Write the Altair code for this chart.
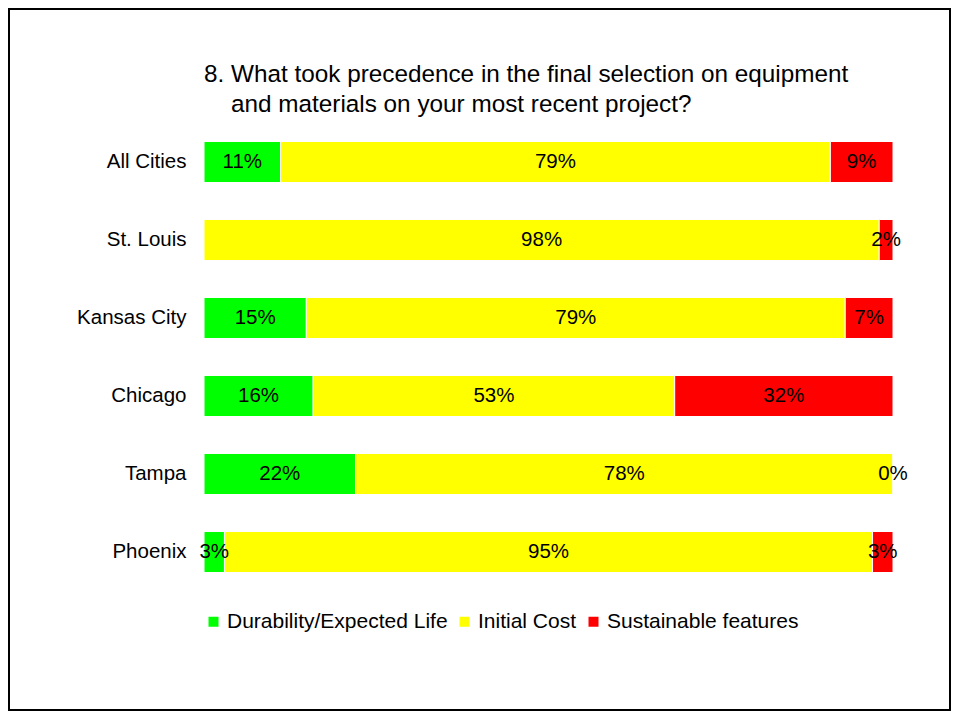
import altair as alt
import pandas as pd

cities = ["All Cities", "St. Louis", "Kansas City", "Chicago", "Tampa", "Phoenix"]
categories = ["Durability/Expected Life", "Initial Cost", "Sustainable features"]
colors = ["#00FF00", "#FFFF00", "#FF0000"]
durability = [11, None, 15, 16, 22, 3]
initial_cost = [79, 98, 79, 53, 78, 95]
sustainable = [9, 2, 7, 32, 0, 3]

rows = []
for i, c in enumerate(cities):
    for k, (cat, vals) in enumerate(zip(categories, [durability, initial_cost, sustainable])):
        v = vals[i]
        if v is None:
            continue
        rows.append({"city": c, "category": cat, "order": k, "value": v})
df = pd.DataFrame(rows)

FONT = "Liberation Sans"

base = alt.Chart(df).transform_stack(
    stack="value", groupby=["city"], as_=["v0", "v1"],
    sort=[alt.SortField("order", order="ascending")], offset="normalize"
).transform_calculate(
    mid="(datum.v0 + datum.v1) / 2", label="datum.value + '%'"
)

xs = alt.Scale(domain=[0, 1], nice=False, zero=True)
y = alt.Y("city:N", sort=cities,
          scale=alt.Scale(paddingInner=0.474, paddingOuter=0.237),
          axis=alt.Axis(title=None, ticks=False, domain=False, labelFontSize=20.5,
                        labelColor="black", labelFont=FONT, labelPadding=18))

bars = base.mark_bar(stroke="white", strokeWidth=1).encode(
    x=alt.X("v0:Q", scale=xs, axis=None),
    x2="v1:Q",
    y=y,
    color=alt.Color("category:N",
                    scale=alt.Scale(domain=categories, range=colors),
                    legend=alt.Legend(title=None, orient="none", legendX=-1, legendY=488,
                                      direction="horizontal", symbolType="square",
                                      symbolSize=100, symbolStrokeWidth=0, symbolOpacity=1,
                                      labelFontSize=21, labelFont=FONT, labelColor="black",
                                      labelLimit=500, labelOffset=3, columnPadding=6)),
)

text = base.mark_text(fontSize=20.5, font=FONT, color="black", align="center", baseline="middle").encode(
    x=alt.X("mid:Q", scale=xs, axis=None),
    y=alt.Y("city:N", sort=cities),
    text="label:N",
)

frame = alt.Chart(pd.DataFrame({"f": [0]})).mark_rect(
    filled=False, stroke="black", strokeWidth=2
).encode(
    x=alt.value(-195), x2=alt.value(746), y=alt.value(-114), y2=alt.value(587)
)

chart = alt.layer(bars, text, frame).properties(
    width=689, height=468,
    autosize=alt.AutoSizeParams(type="pad"),
    padding=0,
    title=alt.TitleParams(
        ["8. What took precedence in the final selection on equipment",
         "\u200b" + "\u00a0" * 4 + "and materials on your most recent project?"],
        anchor="start", frame="group", fontSize=24.3, font=FONT, fontWeight="normal",
        color="black", lineHeight=30, offset=10, dy=119),
).configure_view(strokeWidth=0)

chart.save("out.html", embed_options={"renderer": "svg", "actions": False})
